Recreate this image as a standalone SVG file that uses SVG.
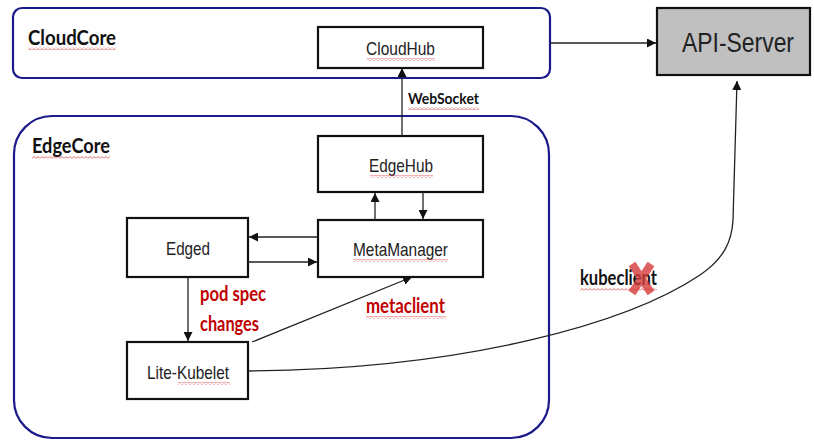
<svg xmlns="http://www.w3.org/2000/svg" width="814" height="440" viewBox="0 0 814 440">
<style>
.core{fill:#fff;stroke:#1a1a8a;stroke-width:2.2}
.box{fill:#fff;stroke:#111;stroke-width:2.2}
.api{fill:#c0c0c0;stroke:#111;stroke-width:2.2}
.nt{font-family:"Liberation Sans Narrow","Liberation Sans",Arial,sans-serif;font-size:19px;fill:#222;text-anchor:middle}
.big{font-size:27px}
.lbl{font-family:Lato,"Liberation Sans",sans-serif;font-weight:bold;font-size:20px;fill:#111}
.red{fill:#c00000}
.conn{fill:none;stroke:#222;stroke-width:1.3}
.sq{fill:url(#sq)}
</style>
<defs>
<marker id="ah" viewBox="0 0 10 10" refX="10" refY="5" markerWidth="9" markerHeight="9" markerUnits="userSpaceOnUse" orient="auto">
<path d="M0,0 L10,5 L0,10 z" fill="#111"/>
</marker>
<pattern id="sq" width="4" height="3" patternUnits="userSpaceOnUse">
<path d="M0,2.5 L2,0.5 L4,2.5" fill="none" stroke="#e03a3a" stroke-width="0.8"/>
</pattern>
</defs>

<g id="cloudcore">
<rect class="core" x="13" y="8" width="537" height="70" rx="9"/>
<text class="lbl" x="28" y="45" textLength="88" lengthAdjust="spacingAndGlyphs">CloudCore</text>
<rect class="sq" x="28" y="47" width="88" height="3"/>
</g>

<g id="edgecore">
<rect class="core" x="14" y="116" width="535" height="322" rx="38"/>
<text class="lbl" x="32" y="153" textLength="78" lengthAdjust="spacingAndGlyphs">EdgeCore</text>
<rect class="sq" x="32" y="156" width="78" height="3"/>
</g>

<g id="cloudhub">
<rect class="box" x="318" y="27" width="165" height="41"/>
<text class="nt" x="400.5" y="55" textLength="69" lengthAdjust="spacingAndGlyphs">CloudHub</text>
<rect class="sq" x="367" y="58" width="68" height="3"/>
</g>

<g id="api-server">
<rect class="api" x="657" y="8" width="153" height="67"/>
<text class="nt big" x="738" y="52" textLength="112" lengthAdjust="spacingAndGlyphs">API-Server</text>
</g>

<g id="edgehub">
<rect class="box" x="318" y="136" width="165" height="56"/>
<text class="nt" x="401" y="172" textLength="64" lengthAdjust="spacingAndGlyphs">EdgeHub</text>
<rect class="sq" x="370" y="175" width="63" height="3"/>
</g>

<g id="metamanager">
<rect class="box" x="318" y="220" width="165" height="57"/>
<text class="nt" x="400.5" y="256" textLength="95" lengthAdjust="spacingAndGlyphs">MetaManager</text>
<rect class="sq" x="353" y="259" width="95" height="3"/>
</g>

<g id="edged">
<rect class="box" x="127" y="218" width="121" height="59"/>
<text class="nt" x="188" y="255" textLength="44" lengthAdjust="spacingAndGlyphs">Edged</text>
</g>

<g id="lite-kubelet">
<rect class="box" x="127" y="342" width="121" height="57"/>
<text class="nt" x="188" y="379" textLength="82" lengthAdjust="spacingAndGlyphs">Lite-Kubelet</text>
<rect class="sq" x="178" y="382" width="52" height="3"/>
</g>

<g id="connectors">
<line class="conn" x1="550" y1="43" x2="656" y2="43" marker-end="url(#ah)"/>
<line class="conn" x1="402" y1="136" x2="402" y2="68" marker-end="url(#ah)"/>
<line class="conn" x1="375" y1="220" x2="375" y2="193" marker-end="url(#ah)"/>
<line class="conn" x1="423" y1="192" x2="423" y2="219" marker-end="url(#ah)"/>
<line class="conn" x1="318" y1="237" x2="249" y2="237" marker-end="url(#ah)"/>
<line class="conn" x1="248" y1="262" x2="317" y2="262" marker-end="url(#ah)"/>
<line class="conn" x1="188" y1="277" x2="188" y2="341" marker-end="url(#ah)"/>
<line class="conn" x1="252" y1="342" x2="412" y2="277" marker-end="url(#ah)"/>
<path class="conn" d="M248,371 C470,369 630,322 700,275 C725,258 732,240 733,220 L737,81" marker-end="url(#ah)"/>
</g>

<g id="labels">
<text class="lbl" x="408" y="104" style="font-size:16px" textLength="71" lengthAdjust="spacingAndGlyphs">WebSocket</text>
<rect class="sq" x="408" y="107" width="71" height="3"/>
<text class="lbl red" x="200" y="301" textLength="66" lengthAdjust="spacingAndGlyphs">pod spec</text>
<text class="lbl red" x="200" y="331" textLength="59" lengthAdjust="spacingAndGlyphs">changes</text>
<text class="lbl red" x="366" y="313" textLength="79" lengthAdjust="spacingAndGlyphs">metaclient</text>
<rect class="sq" x="366" y="316" width="80" height="3"/>
<text class="lbl" x="580" y="285" textLength="77" lengthAdjust="spacingAndGlyphs">kubeclient</text>
<rect class="sq" x="580" y="288" width="77" height="3"/>
<g id="cross" stroke="#d63c3c" stroke-width="8" opacity="0.8">
<line x1="632" y1="264" x2="651" y2="293"/>
<line x1="651" y1="264" x2="632" y2="293"/>
</g>
</g>
</svg>
